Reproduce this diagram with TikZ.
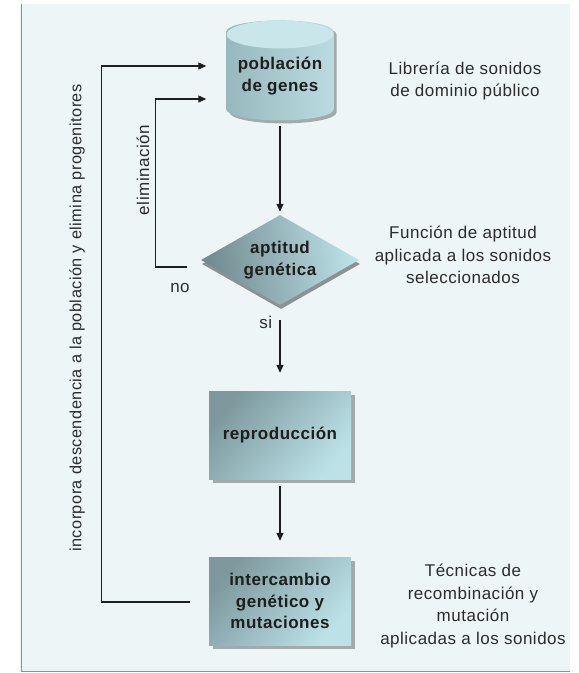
\documentclass[tikz,border=0pt]{standalone}
\usepackage{fontspec}
\setmainfont[LetterSpace=3]{Liberation Sans}
\usetikzlibrary{shapes.geometric,shadows,arrows.meta}

\definecolor{panel}{HTML}{EDF5F7}
\definecolor{rim}{HTML}{8A9294}
\definecolor{boxdark}{HTML}{7D999E}
\definecolor{boxlight}{HTML}{BCE2E8}
\definecolor{cylleft}{HTML}{97B8BD}
\definecolor{cylright}{HTML}{BADCE1}
\definecolor{cyltop}{HTML}{C9E6EA}
\definecolor{shadowc}{HTML}{A2AAAC}
\definecolor{txt}{HTML}{1E1E1E}
\definecolor{notetxt}{HTML}{2C2C2C}

\begin{document}
\begin{tikzpicture}[x=1pt,y=-1pt,
every node/.style={align=center, text=txt},
boxtext/.style={font=\bfseries\fontsize{17}{21.5}\selectfont},
notetext/.style={text=notetxt, font=\fontsize{17}{22.5}\selectfont},
proc/.style={boxtext, rectangle, minimum width=142pt, minimum height=88pt, inner sep=0pt,
  top color=boxdark, bottom color=boxlight, shading angle=50,
  drop shadow={shadow xshift=4pt, shadow yshift=-4pt, fill=shadowc, opacity=1}},
test/.style={boxtext, diamond, aspect=1.75, minimum width=158pt, minimum height=90pt, inner sep=0pt,
  left color=boxdark!90!black, right color=boxlight, shading angle=100,
  drop shadow={shadow xshift=1pt, shadow yshift=-4pt, fill=rim, opacity=1}},
store/.style={boxtext, cylinder, shape border rotate=90, aspect=0.26,
  minimum width=107pt, minimum height=100pt, inner sep=0pt,
  path picture={
    \shade[left color=cylleft, right color=cylright] (path picture bounding box.south west) rectangle (path picture bounding box.north east);
    \fill[cyltop] ([yshift=-14pt]path picture bounding box.north) ellipse [x radius=53.5pt, y radius=14pt];
  },
  drop shadow={shadow xshift=3pt, shadow yshift=-3pt, fill=shadowc, opacity=1}},
flow/.style={draw=txt, line width=1.1pt, -{Triangle[length=8pt, width=7pt]}}]

\useasboundingbox (0,0) rectangle (579,673);
\fill[panel] (20,4) rectangle (570,671);
\draw[rim, line width=1pt] (21,4) -- (21,671) -- (570,671);

% diagrama principal
\node[store] (pob) at (280,76) {poblaci\'on\\de genes};
\node[test] (apt) at (280,260) {aptitud\\gen\'etica};
\node[proc] (rep) at (280,435) {reproducci\'on};
\node[proc] (inter) at (280,601) {intercambio\\gen\'etico y\\mutaciones};

\draw[flow, shorten <=5pt, shorten >=3pt] (pob.bottom) -- (apt.north);
\draw[flow, shorten <=15pt, shorten >=18pt] (apt.south) -- node[pos=0.2, left=4pt, notetext]{si} (rep.north);
\draw[flow, shorten <=7pt, shorten >=16pt] (rep.south) -- (inter.north);

% lazos de retorno
\draw[flow, shorten <=14pt, shorten >=20pt] ([yshift=-7pt]apt.west) -- ++(-45,0) |- ([yshift=-23pt]pob.west);
\draw[flow, shorten <=19pt, shorten >=20pt] ([yshift=-1pt]inter.west) -- ++(-107,0) |- ([yshift=10pt]pob.west);

% textos
\node[notetext] (no) at (180,288) {no};
\node[notetext, rotate=90] (elim) at (143,170) {eliminaci\'on};
\node[notetext, rotate=90, font=\fontsize{16.3}{20}\selectfont] (incorp) at (77,318) {incorpora descendencia a la poblaci\'on y elimina progenitores};
\node[notetext] (lib) at (465,81) {Librer\'ia de sonidos\\de dominio p\'ublico};
\node[notetext] (fun) at (463,255) {Funci\'on de aptitud\\aplicada a los sonidos\\seleccionados};
\node[notetext] (tec) at (473,606) {T\'ecnicas de\\recombinaci\'on y\\mutaci\'on\\aplicadas a los sonidos};
\end{tikzpicture}
\end{document}
